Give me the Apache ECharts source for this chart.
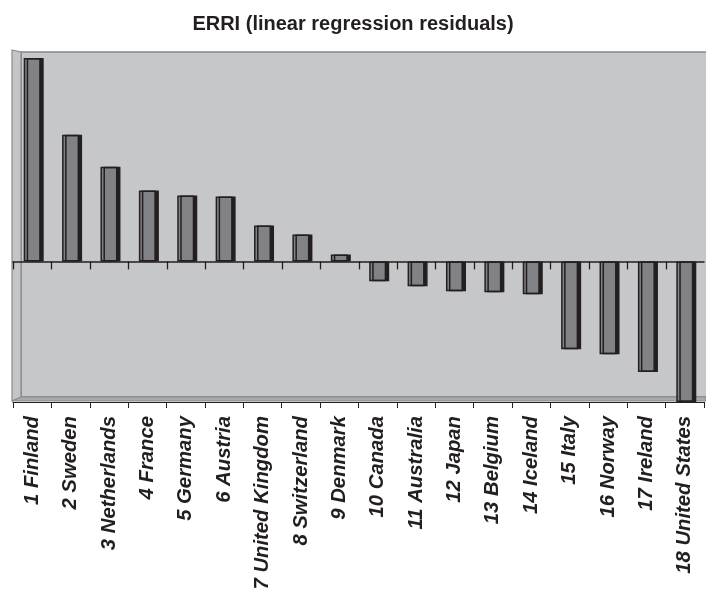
<!DOCTYPE html>
<html>
<head>
<meta charset="utf-8">
<script src="https://cdn.jsdelivr.net/npm/echarts@6/dist/echarts.min.js"></script>
<style>
html,body{margin:0;padding:0;background:#fff;}
#chart{width:706px;height:595px;}
</style>
</head>
<body>
<div id="chart"></div>
<script>
const titleText = 'ERRI (linear regression residuals)';
const categories = ['1 Finland','2 Sweden','3 Netherlands','4 France','5 Germany','6 Austria','7 United Kingdom','8 Switzerland','9 Denmark','10 Canada','11 Australia','12 Japan','13 Belgium','14 Iceland','15 Italy','16 Norway','17 Ireland','18 United States'];
const residuals = [10.2, 6.35, 4.75, 3.55, 3.3, 3.25, 1.8, 1.35, 0.35, -1.0, -1.25, -1.5, -1.55, -1.65, -4.4, -4.65, -5.55, -7.05];
const yMin = -7.05;
const yMax = 10.5;

const chart = echarts.init(document.getElementById('chart'), null, {renderer:'canvas'});
const FONT = '"Liberation Sans", Arial, sans-serif';
chart.setOption({
  animation:false,
  backgroundColor:'#ffffff',
  title:{
    text:titleText, left:'center', top:9,
    textStyle:{fontFamily:FONT, fontSize:20, fontWeight:'bold', color:'#231f20'}
  },
  graphic:[
    {type:'rect', z:-10, silent:true, shape:{x:21, y:52, width:690, height:345},
     style:{fill:'#c6c7c9', stroke:'#858688', lineWidth:1.5}},
    {type:'polygon', z:-9, silent:true, shape:{points:[[12,50],[21,52],[21,397],[12,401]]},
     style:{fill:'#c4c5c7', stroke:'#8a8b8d', lineWidth:1.2}},
    {type:'polygon', z:-9, silent:true, shape:{points:[[12,401],[21,397],[706,397],[706,401]]},
     style:{fill:'#a9aaac', stroke:'#8a8b8d', lineWidth:1}}
  ],
  grid:{left:13, right:2, top:52, bottom:193, containLabel:false},
  xAxis:[
    {type:'category', data:categories, position:'bottom',
     axisLine:{onZero:false, lineStyle:{color:'#231f20', width:1}},
     axisTick:{show:true, length:6, lineStyle:{color:'#231f20', width:1}},
     axisLabel:{rotate:90, interval:0, margin:14, fontFamily:FONT, fontSize:20.3,
                fontStyle:'italic', fontWeight:'bold', color:'#231f20'},
     splitLine:{show:false}},
    {type:'category', data:categories, position:'top',
     axisLine:{onZero:true, lineStyle:{color:'#231f20', width:1.5}},
     axisTick:{show:false},
     axisLabel:{show:false}, splitLine:{show:false}}
  ],
  yAxis:{type:'value', min:yMin, max:yMax, show:false, splitLine:{show:false}},
  series:[{
    type:'bar', data:residuals, xAxisIndex:0, barWidth:17, z:3,
    itemStyle:{color:'#818285', borderColor:'#231f20', borderWidth:1.5,
               shadowColor:'#231f20', shadowOffsetX:3, shadowOffsetY:0, shadowBlur:0}
  },{
    type:'custom', xAxisIndex:0, z:4, silent:true,
    data: categories.map(function(c, i){ return [i, 0]; }),
    renderItem: function(params, api){
      var p = api.coord([api.value(0), 0]);
      var bw = api.size([1, 0])[0];
      var x = Math.round(p[0] - bw / 2) + 0.5;
      return {type:'line', shape:{x1:x, y1:p[1], x2:x, y2:p[1] + 8},
              style:{stroke:'#231f20', lineWidth:1.3}};
    }
  }]
});
</script>
</body>
</html>
